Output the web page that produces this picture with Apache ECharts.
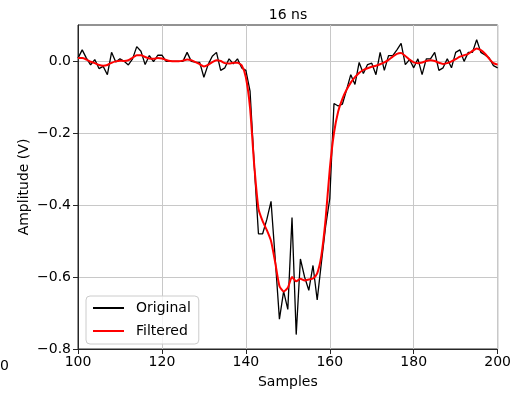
<!DOCTYPE html>
<html>
<head>
<meta charset="utf-8">
<script src="https://cdn.jsdelivr.net/npm/echarts@6/dist/echarts.min.js"></script>
<style>
html,body{margin:0;padding:0;background:#fff;}
#chart{width:514px;height:394px;}
</style>
</head>
<body>
<div id="chart"></div>
<script>
var samples = [100,101,102,103,104,105,106,107,108,109,110,111,112,113,114,115,116,117,118,119,120,121,122,123,124,125,126,127,128,129,130,131,132,133,134,135,136,137,138,139,140,141,142,143,144,145,146,147,148,149,150,151,152,153,154,155,156,157,158,159,160,161,162,163,164,165,166,167,168,169,170,171,172,173,174,175,176,177,178,179,180,181,182,183,184,185,186,187,188,189,190,191,192,193,194,195,196,197,198,199,200];

var original = [0.008,0.031,0.008,-0.011,0.004,-0.021,-0.015,-0.038,0.024,-0.003,
0.006,-0.001,-0.011,0.006,0.040,0.027,-0.010,0.015,-0.002,0.016,
0.016,-0.001,-0.001,-0.001,-0.001,-0.001,0.024,-0.001,-0.003,-0.004,
-0.045,-0.010,0.013,0.024,-0.026,-0.019,0.006,-0.008,0.006,-0.019,
-0.026,-0.084,-0.29,-0.48,-0.48,-0.44,-0.39,-0.55,-0.717,-0.64,
-0.69,-0.435,-0.76,-0.55,-0.60,-0.637,-0.568,-0.664,-0.56,-0.46,
-0.382,-0.118,-0.125,-0.12,-0.08,-0.038,-0.065,-0.004,-0.035,-0.01,
-0.006,-0.038,0.024,-0.026,0.015,0.015,0.031,0.049,-0.01,0.004,
-0.019,0.006,-0.038,0.006,0.006,0.024,-0.026,-0.019,0.006,-0.019,
0.024,0.031,-0.001,0.024,0.024,0.059,0.024,0.017,0.008,-0.013,
-0.019];

var filtered = [0.008,0.008,0.004,-0.002,-0.006,-0.011,-0.013,-0.011,-0.005,-0.001,
0.001,0.0,0.002,0.009,0.016,0.016,0.011,0.007,0.006,0.008,
0.007,0.003,0.0,-0.001,-0.001,0.001,0.004,0.002,-0.003,-0.009,
-0.015,-0.011,-0.003,0.002,0.0,-0.006,-0.007,-0.005,-0.005,-0.012,
-0.045,-0.13,-0.29,-0.41,-0.445,-0.47,-0.50,-0.56,-0.625,-0.64,
-0.63,-0.60,-0.612,-0.605,-0.61,-0.607,-0.604,-0.59,-0.54,-0.44,
-0.30,-0.20,-0.14,-0.105,-0.08,-0.06,-0.045,-0.033,-0.025,-0.02,
-0.016,-0.013,-0.009,-0.004,0.003,0.012,0.02,0.022,0.014,0.004,
-0.004,-0.006,-0.004,0.0,0.002,0.0,-0.005,-0.008,-0.006,-0.001,
0.005,0.012,0.016,0.02,0.028,0.035,0.03,0.02,0.006,-0.006,
-0.01];

var seriesNames = ['Original', 'Filtered'];
var titleText = '16 ns';
var xTicks = [100, 120, 140, 160, 180, 200];
var yTicks = [-0.8, -0.6, -0.4, -0.2, 0.0];

function pairs(xs, ys) {
  var out = [];
  for (var i = 0; i < xs.length; i++) out.push([xs[i], ys[i]]);
  return out;
}

var FONT = 'DejaVu Sans';
var chart = echarts.init(document.getElementById('chart'), null, {renderer: 'canvas'});
chart.setOption({
  animation: false,
  backgroundColor: '#ffffff',
  textStyle: {fontFamily: FONT},
  grid: {left: 78, right: 16, top: 25, bottom: 42, show: true, borderColor: '#262626', borderWidth: 1, backgroundColor: 'transparent'},
  graphic: [
    {type: 'text', x: 288, y: 15, style: {text: titleText, fontFamily: FONT, fontSize: 14, fill: '#000', textAlign: 'center', textVerticalAlign: 'middle'}},
    {type: 'text', x: 0, y: 366, style: {text: '0', fontFamily: FONT, fontSize: 14, fill: '#000', textAlign: 'left', textVerticalAlign: 'middle'}}
  ],
  legend: {
    orient: 'vertical',
    left: 86, top: 296,
    itemWidth: 31, itemHeight: 14, itemGap: 9,
    padding: [5, 8, 6, 6],
    borderColor: '#cccccc', borderWidth: 1, borderRadius: 4,
    backgroundColor: 'rgba(255,255,255,0.8)',
    itemStyle: {opacity: 0},
    textStyle: {fontFamily: FONT, fontSize: 14, color: '#000', padding: [0, 0, 0, 7]},
    data: seriesNames
  },
  xAxis: {
    type: 'value', min: xTicks[0], max: xTicks[xTicks.length - 1], interval: 20,
    name: 'Samples', nameLocation: 'middle', nameGap: 26, nameMoveOverlap: false,
    nameTextStyle: {fontFamily: FONT, fontSize: 14, color: '#000'},
    axisLine: {show: true, onZero: false, lineStyle: {color: '#262626', width: 1}},
    axisTick: {show: true, inside: false, length: 5, lineStyle: {color: '#262626'}},
    axisLabel: {fontFamily: FONT, fontSize: 14, color: '#000', margin: 6},
    splitLine: {show: true, lineStyle: {color: '#c8c8c8', width: 1}}
  },
  yAxis: {
    type: 'value', min: yTicks[0], max: 0.1, interval: 0.2,
    name: 'Amplitude (V)', nameLocation: 'middle', nameGap: 47, nameMoveOverlap: false,
    nameTextStyle: {fontFamily: FONT, fontSize: 14, color: '#000'},
    axisLine: {show: true, lineStyle: {color: '#262626', width: 1}},
    axisTick: {show: true, inside: false, length: 5, lineStyle: {color: '#262626'}, customValues: yTicks},
    axisLabel: {fontFamily: FONT, fontSize: 14, color: '#000', margin: 7, customValues: yTicks,
      formatter: function (v) { return Number(v).toFixed(1).replace('-', '\u2212'); }},
    splitLine: {show: true, lineStyle: {color: '#c8c8c8', width: 1}}
  },
  series: [
    {name: seriesNames[0], type: 'line', data: pairs(samples, original), symbol: 'none', showSymbol: false,
     lineStyle: {color: '#000000', width: 1.3}, itemStyle: {color: '#000000'}, z: 2},
    {name: seriesNames[1], type: 'line', data: pairs(samples, filtered), symbol: 'none', showSymbol: false, smooth: 0.2,
     lineStyle: {color: '#ff0000', width: 2}, itemStyle: {color: '#ff0000'}, z: 3}
  ]
});
</script>
</body>
</html>
